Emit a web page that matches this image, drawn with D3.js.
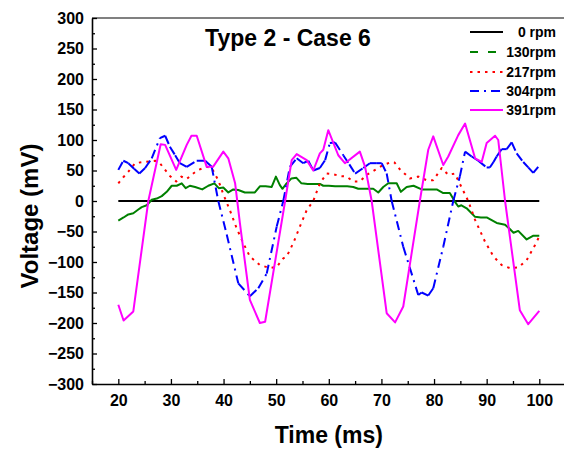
<!DOCTYPE html>
<html>
<head>
<meta charset="utf-8">
<script src="https://cdn.jsdelivr.net/npm/d3@7/dist/d3.min.js"></script>
<style>
  html, body { margin: 0; padding: 0; background: #fff; }
  svg { display: block; }
  text { font-family: Arial, "Liberation Sans", sans-serif; font-weight: bold; fill: #000; }
</style>
</head>
<body>
<svg id="chart" width="564" height="450"></svg>
<script>
// ---------- data ----------
const title = "Type 2 - Case 6";
const xLabel = "Time (ms)";
const yLabel = "Voltage (mV)";
const xTicks = [20, 30, 40, 50, 60, 70, 80, 90, 100];
const yTicks = [-300, -250, -200, -150, -100, -50, 0, 50, 100, 150, 200, 250, 300];
const seriesNames = ["0 rpm", "130rpm", "217rpm", "304rpm", "391rpm"];

const rpm0 = [[20, 0], [100, 0]];

const rpm130 = [[20,-32],[21,-27],[21.9,-22],[22.85,-20],[23.8,-14],[24.45,-10],[25.4,-7],[26.35,2],[27.3,4],
  [28.25,8],[29.2,15],[30.15,25],[31.1,25],[32.05,29],[32.8,21],[33.6,25],[34.6,23],[35.95,19],[37.1,25],
  [38.25,29],[39.1,21],[39.95,22],[40.9,14],[41.85,19],[42.8,18],[44.05,14],[45,14],[45.95,14],[46.9,24],
  [48,24],[49.15,23],[49.95,40],[50.7,26],[51.2,20],[51.8,27],[52.9,37],[53.85,38],[54.8,29],[56,28],
  [57.2,28],[58.3,28],[58.95,25],[60,25],[61.2,24],[62.4,24],[63.5,24],[64.65,23],[65.6,20],[66.8,20],
  [68.45,20],[69.4,14],[70.35,23],[71.3,29],[72.1,29],[72.9,29],[73.7,15],[74.8,23],[76.1,25],[77.65,19],
  [79,19],[80.5,19],[81.75,13],[83,13],[83.95,-1],[84.6,-9],[85.2,-7],[86.2,-12],[87.8,-26],[88.9,-27],
  [90,-27],[91.9,-36],[93.5,-39],[94.4,-46],[95.1,-52],[96,-49],[97.6,-63],[98.8,-57],[100,-57]];

const rpm217 = [[20,29],[20.95,39],[21.9,48],[23.2,62],[24.75,64],[27,66],[27.9,62],[28.9,51],[29.8,41],
  [31,32],[32,40],[33,36],[33.9,43],[35.2,51],[36.8,56],[37.75,54],[39,34],[40,10],[41.2,-15],[42.5,-45],
  [43.75,-69],[45,-91],[46.9,-105],[48.8,-110],[50.1,-108],[51.35,-94],[52,-91],[53.25,-69],[54.5,-42],
  [55.8,-15],[57.05,0],[58.3,29],[59.6,45],[60.8,44],[62.1,41],[63.4,40],[64.65,32],[65.9,32],[67.2,43],
  [68.8,51],[70.35,59],[71.95,64],[72.5,63],[73.5,52],[75.4,37],[77,40],[78.6,34],[79.85,34],[81.45,54],
  [82.7,43],[83.95,45],[85.2,23],[86.5,0],[87.8,-31],[89.7,-67],[91.3,-91],[92.85,-105],[94.4,-110],
  [96,-109],[97.6,-97],[99.2,-72],[100,-58]];

const rpm304 = [[20,51],[20.95,66],[21.9,62],[23,53],[24,45],[25.1,54],[26.35,70],[27.9,103],[28.9,107],[29.8,89],
  [30.8,75],[31.7,62],[33,56],[34.9,66],[36.5,66],[37.75,56],[39,0],[40.6,-55],[42.8,-135],[45,-156],[46.6,-143],
  [48.2,-119],[50.1,-42],[51.35,0],[52.6,56],[53.9,70],[55.15,62],[56.1,66],[57.05,50],[58.3,54],[59.3,67],
  [60.2,95],[61.2,96],[62.75,75],[63.9,60],[65,45],[66.55,54],[67.8,62],[69,62],[70.05,62],[71,45],[71.95,0],[74.15,-75],
  [77,-154],[77.65,-150],[78.9,-155],[79.85,-143],[81.75,-75],[83.65,0],[84.9,40],[85.9,81],[87.15,73],
  [88.4,66],[90,55],[90.6,55],[91.3,64],[91.9,73],[92.85,85],[93.8,85],[94.75,96],[95.7,78],[96.95,64],[97.9,55],[98.85,46],
  [99.8,56]];

const rpm391 = [[20,-170],[21,-196],[22.85,-181],[25.7,0],[28.05,93],[28.9,92],[31,51],[33,92],[33.9,107],
  [34.9,107],[36.8,56],[38,56],[39.95,81],[40.9,70],[42.2,29],[43.1,-36],[45,-162],[46.9,-200],[47.9,-198],
  [51.7,0],[52.95,67],[53.9,77],[55.8,67],[57.05,50],[58.3,78],[58.95,84],[59.9,116],[61.8,75],[63.06,62],
  [65.9,81],[66.9,56],[68.15,0],[71,-184],[72.6,-199],[74.15,-173],[77.3,0],[78.9,84],[79.85,106],[81.75,59],
  [82.7,73],[84.6,108],[85.9,127],[87.8,70],[89.05,64],[90,95],[91.6,107],[92.2,100],[93.5,0],[96.3,-179],
  [97.9,-202],[100,-180]];

// ---------- styles ----------
const styles = [
  { data: rpm0,   color: "#000000", dash: null,      mode: "path" },
  { data: rpm130, color: "#008000", dash: "8,10",    mode: "path", plotDash: null },
  { data: rpm217, color: "#ff0000", dash: "2.5,5",   mode: "path" },
  { data: rpm304, color: "#0000ff", dash: "9,5,2,5", mode: "segments" },
  { data: rpm391, color: "#ff00ff", dash: null,      mode: "path" }
];

const svg = d3.select("#chart");
const mLeft = 92, mRight = 565.6, mTop = 18, mBottom = 384;

const x = d3.scaleLinear().domain([15, 105]).range([mLeft, mRight]);
const y = d3.scaleLinear().domain([-300, 300]).range([mBottom, mTop]);

// top frame line (gray)
svg.append("line").attr("x1", mLeft).attr("x2", 564).attr("y1", mTop).attr("y2", mTop)
  .attr("stroke", "#808080").attr("stroke-width", 2);

// minor ticks
const yMinor = d3.range(-275, 300, 50);
const xMinor = d3.range(15, 106, 10);
svg.append("g").attr("transform", `translate(${mLeft},0)`)
  .call(d3.axisLeft(y).tickValues(yMinor).tickSize(-3).tickSizeOuter(0).tickFormat(""))
  .call(g => g.select(".domain").remove())
  .call(g => g.selectAll("line").attr("stroke", "#000").attr("stroke-width", 1.3));
svg.append("g").attr("transform", `translate(0,${mBottom})`)
  .call(d3.axisBottom(x).tickValues(xMinor).tickSize(-3).tickSizeOuter(0).tickFormat(""))
  .call(g => g.select(".domain").remove())
  .call(g => g.selectAll("line").attr("stroke", "#000").attr("stroke-width", 1.3));

// major axes
const yAxis = svg.append("g").attr("transform", `translate(${mLeft},0)`)
  .call(d3.axisLeft(y).tickValues(yTicks).tickSize(-5).tickSizeOuter(0).tickPadding(8));
const xAxis = svg.append("g").attr("transform", `translate(0,${mBottom})`)
  .call(d3.axisBottom(x).tickValues(xTicks).tickSize(-5).tickSizeOuter(0).tickPadding(11));
[yAxis, xAxis].forEach(g => {
  g.select(".domain").attr("stroke", "#000").attr("stroke-width", 1.6);
  g.selectAll(".tick line").attr("stroke", "#000").attr("stroke-width", 1.3);
  g.selectAll(".tick text").attr("font-size", 16).attr("font-weight", "bold")
    .attr("font-family", "Arial, 'Liberation Sans', sans-serif").attr("fill", "#000");
});

// lines
const line = d3.line().x(d => x(d[0])).y(d => y(d[1]));
const plot = svg.append("g");
styles.forEach((s, i) => {
  if (s.mode === "segments") {
    const segs = d3.pairs(s.data);
    plot.append("g").selectAll("path").data(segs).join("path")
      .attr("d", d => line(d))
      .attr("fill", "none").attr("stroke", s.color).attr("stroke-width", 2)
      .attr("stroke-dasharray", s.dash);
  } else {
    const dash = (s.plotDash !== undefined) ? s.plotDash : s.dash;
    plot.append("path").datum(s.data)
      .attr("d", line)
      .attr("fill", "none").attr("stroke", s.color).attr("stroke-width", 2)
      .attr("stroke-linejoin", "round")
      .attr("stroke-dasharray", dash);
  }
});

// title
svg.append("text").attr("x", 288).attr("y", 46).attr("text-anchor", "middle")
  .attr("font-size", 23).text(title);

// axis titles
svg.append("text").attr("x", (mLeft + mRight) / 2).attr("y", 443).attr("text-anchor", "middle")
  .attr("font-size", 23).text(xLabel);
svg.append("text").attr("transform", "translate(38,216) rotate(-90)").attr("text-anchor", "middle")
  .attr("font-size", 24).text(yLabel);

// legend
const legendY = [32, 52, 72, 91, 110];
const legend = svg.append("g");
seriesNames.forEach((name, i) => {
  const s = styles[i];
  legend.append("line").attr("x1", 470).attr("x2", 503)
    .attr("y1", legendY[i]).attr("y2", legendY[i])
    .attr("stroke", s.color).attr("stroke-width", 2)
    .attr("stroke-dasharray", s.dash);
  legend.append("text").attr("x", 556).attr("y", legendY[i] + 5)
    .attr("text-anchor", "end").attr("font-size", 14).text(name);
});
</script>
</body>
</html>
